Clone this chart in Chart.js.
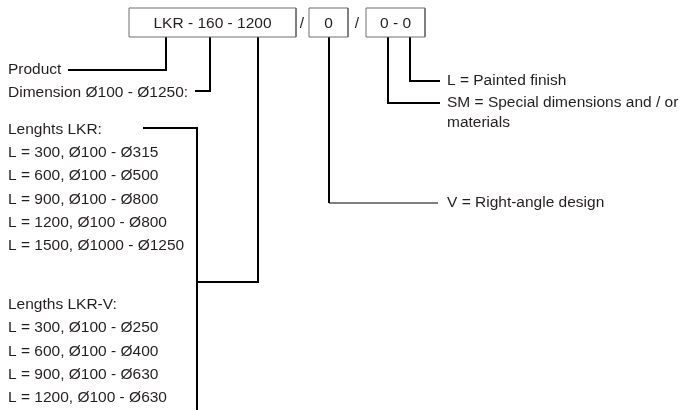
<!DOCTYPE html>
<html>
<head>
<meta charset="utf-8">
<script src="https://cdn.jsdelivr.net/npm/chart.js@4.4.1/dist/chart.umd.min.js"></script>
<style>
  html, body { margin: 0; padding: 0; background: #ffffff; }
  #sheet { display: block; }
</style>
</head>
<body>
<canvas id="sheet" width="688" height="410"></canvas>
<script>
// =================================================================
// LKR type code — key diagram
// =================================================================

// sheet extent (one unit = one pixel of the original drawing)
const sheetWidth = 688;
const sheetHeight = 410;

// the type code segments shown in boxes along the top
const codeLabels = ['LKR - 160 - 1200', '0', '0 - 0'];
const codeLeft = [129, 309, 366];
const codeRight = [296, 348, 425];
const codeTop = 8;
const codeBottom = 37;
const slashX = [302, 357];

// left column descriptions
const leftLabels = [
    'Product',
    'Dimension Ø100 - Ø1250:',
    'Lenghts LKR:',
    'L = 300, Ø100 - Ø315',
    'L = 600, Ø100 - Ø500',
    'L = 900, Ø100 - Ø800',
    'L = 1200, Ø100 - Ø800',
    'L = 1500, Ø1000 - Ø1250',
    'Lengths LKR-V:',
    'L = 300, Ø100 - Ø250',
    'L = 600, Ø100 - Ø400',
    'L = 900, Ø100 - Ø630',
    'L = 1200, Ø100 - Ø630'
];
const leftRows = [70, 93, 130, 153, 176, 200, 223, 246, 305, 328, 352, 375, 398];
const leftX = 8;

// right column descriptions
const rightLabels = [
    'L = Painted finish',
    'SM = Special dimensions and / or',
    'materials',
    'V = Right-angle design'
];
const rightRows = [81, 103, 123, 203];
const rightX = 447;

// leader lines from each text to its code segment
const leaders = [
    [[68, 70], [166, 70], [166, codeBottom]],
    [[195, 91], [210, 91], [210, codeBottom]],
    [[143, 128], [197, 128], [197, 410]],
    [[197, 282], [258, 282], [258, codeBottom]],
    [[329, codeBottom], [329, 203]],
    [[388, codeBottom], [388, 103], [440, 103]],
    [[410, codeBottom], [410, 81], [440, 81]]
];
const thinLeaders = [
    [[329, 203], [438, 203]]
];

const textFont = '15.5px "Liberation Sans", Arial, Helvetica, sans-serif';
const textColor = '#231f20';

function toPoints(path) {
    return path.map(p => ({ x: p[0], y: p[1] }));
}

const datasets = [];

codeLabels.forEach((lab, i) => {
    datasets.push({
        label: 'box ' + lab,
        data: toPoints([
            [codeLeft[i], codeTop], [codeRight[i], codeTop],
            [codeRight[i], codeBottom], [codeLeft[i], codeBottom],
            [codeLeft[i], codeTop]
        ]),
        showLine: true,
        borderColor: '#6d6e70',
        borderWidth: 1,
        pointRadius: 0,
        borderJoinStyle: 'miter',
        fill: false
    });
});

leaders.forEach((path, i) => {
    datasets.push({
        label: 'leader ' + i,
        data: toPoints(path),
        showLine: true,
        borderColor: '#000000',
        borderWidth: 2,
        pointRadius: 0,
        borderJoinStyle: 'miter',
        borderCapStyle: 'butt',
        fill: false
    });
});

thinLeaders.forEach((path, i) => {
    datasets.push({
        label: 'thin ' + i,
        data: toPoints(path),
        showLine: true,
        borderColor: '#000000',
        borderWidth: 1.2,
        pointRadius: 0,
        fill: false
    });
});

// draws every text at its place on the sheet scales
const textPlugin = {
    id: 'sheetText',
    afterDatasetsDraw(chart) {
        const ctx = chart.ctx;
        const sx = chart.scales.x;
        const sy = chart.scales.y;
        ctx.save();
        ctx.font = textFont;
        ctx.fillStyle = textColor;
        ctx.textBaseline = 'middle';

        ctx.textAlign = 'left';
        leftLabels.forEach((t, i) => {
            ctx.fillText(t, sx.getPixelForValue(leftX), sy.getPixelForValue(leftRows[i]));
        });
        rightLabels.forEach((t, i) => {
            ctx.fillText(t, sx.getPixelForValue(rightX), sy.getPixelForValue(rightRows[i]));
        });

        ctx.textAlign = 'center';
        const midY = sy.getPixelForValue((codeTop + codeBottom) / 2 + 1);
        codeLabels.forEach((t, i) => {
            ctx.fillText(t, sx.getPixelForValue((codeLeft[i] + codeRight[i]) / 2), midY);
        });
        slashX.forEach(x => {
            ctx.fillText('/', sx.getPixelForValue(x), midY);
        });
        ctx.restore();
    }
};

new Chart(document.getElementById('sheet'), {
    type: 'scatter',
    data: { datasets: datasets },
    options: {
        responsive: false,
        animation: false,
        layout: { padding: 0 },
        plugins: {
            legend: { display: false },
            tooltip: { enabled: false }
        },
        scales: {
            x: { type: 'linear', min: 0, max: sheetWidth, display: false },
            y: { type: 'linear', min: 0, max: sheetHeight, reverse: true, display: false }
        }
    },
    plugins: [textPlugin]
});
</script>
</body>
</html>
